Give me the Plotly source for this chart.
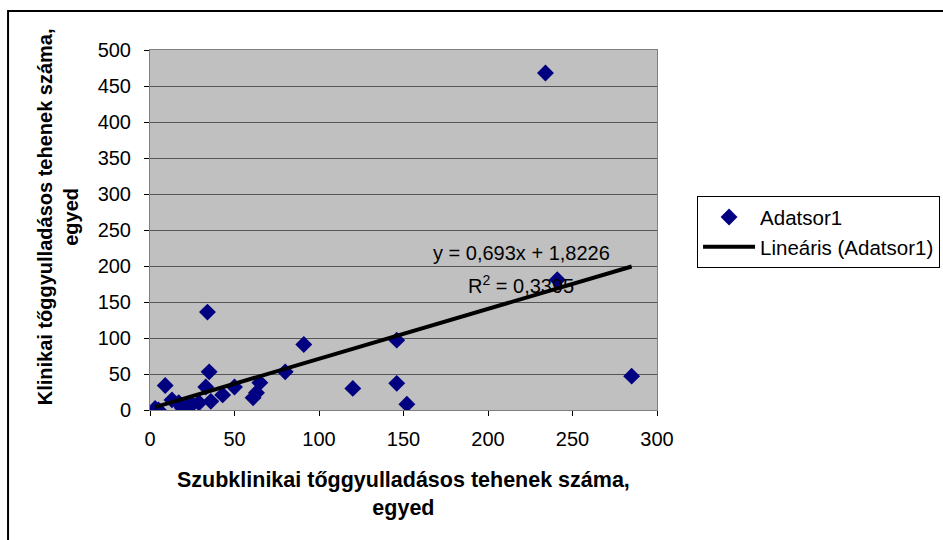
import plotly.graph_objects as go

# Data
subclinical = [3, 5, 9, 13, 17, 19, 22, 25, 29, 33, 34, 35, 36, 43, 50, 61, 63, 65, 80, 91, 120, 146, 146, 152, 234, 241, 285]
clinical = [2, 0, 34, 14, 10, 3, 5, 8, 10, 32, 136, 53, 12, 21, 32, 17, 24, 38, 53, 91, 30, 97, 37, 8, 468, 181, 47]

trend_slope = 0.693
trend_intercept = 1.8226
r_squared_text = "0,3395"

x_ticks = [0, 50, 100, 150, 200, 250, 300]
y_ticks = [0, 50, 100, 150, 200, 250, 300, 350, 400, 450, 500]

x_title = "Szubklinikai tőggyulladásos tehenek száma,<br>egyed"
y_title = "Klinikai tőggyulladásos tehenek száma,<br>egyed"

x_min, x_max = min(subclinical), max(subclinical)
trend_x = [x_min, x_max]
trend_y = [trend_slope * v + trend_intercept for v in trend_x]

FONT = "Liberation Sans, Arial, sans-serif"

fig = go.Figure()
fig.add_trace(go.Scatter(
    x=subclinical, y=clinical, mode="markers", name="Adatsor1",
    marker=dict(symbol="diamond", color="#000080", size=13, line=dict(width=0)),
))
fig.add_trace(go.Scatter(
    x=trend_x, y=trend_y, mode="lines", name="Lineáris (Adatsor1)",
    line=dict(color="black", width=4),
))

fig.update_layout(
    width=943, height=540,
    margin=dict(l=150, r=286, t=50, b=130, autoexpand=False),
    paper_bgcolor="white",
    plot_bgcolor="#C0C0C0",
    font=dict(family=FONT, size=20, color="black"),
    showlegend=True,
    legend=dict(
        x=1.079, y=0.594, xanchor="left", yanchor="top",
        bgcolor="white", bordercolor="black", borderwidth=1,
        font=dict(size=20.5), itemwidth=52, tracegroupgap=0,
    ),
    xaxis=dict(
        range=[0, 300], tickvals=x_ticks, showgrid=False, zeroline=False,
        showline=True, linecolor="#808080", linewidth=1, mirror=True,
        ticks="outside", ticklen=5, tickcolor="black",
        tickfont=dict(size=20), ticklabelstandoff=6,
    ),
    yaxis=dict(
        range=[0, 500], tickvals=y_ticks, showgrid=True, gridcolor="#555555", gridwidth=1,
        zeroline=False, showline=True, linecolor="#808080", linewidth=1, mirror=True,
        ticks="outside", ticklen=5, tickcolor="black",
        tickfont=dict(size=20), ticklabelstandoff=9,
    ),
    annotations=[
        dict(x=0.5, y=-0.232, xref="paper", yref="paper",
             text="<b>" + x_title + "</b>", showarrow=False,
             font=dict(size=21.5), xanchor="center", yanchor="middle"),
        dict(x=-0.181, y=0.536, xref="paper", yref="paper",
             text="<b>" + y_title + "</b>", showarrow=False, textangle=-90,
             font=dict(size=20), xanchor="center", yanchor="middle"),
        dict(x=0.732, y=0.435, xref="paper", yref="paper",
             text="y = 0,693x + 1,8226", showarrow=False,
             font=dict(size=20), xanchor="center", yanchor="middle"),
        dict(x=0.732, y=0.35, xref="paper", yref="paper",
             text="R<sup>2</sup> = " + r_squared_text, showarrow=False,
             font=dict(size=20), xanchor="center", yanchor="middle"),
    ],
    shapes=[
        dict(type="rect", xref="paper", yref="paper",
             x0=-0.28, x1=1.7, y0=-0.6, y1=1.108,
             line=dict(color="black", width=2), fillcolor="rgba(0,0,0,0)", layer="below"),
    ],
)

fig.write_html("out.html")
